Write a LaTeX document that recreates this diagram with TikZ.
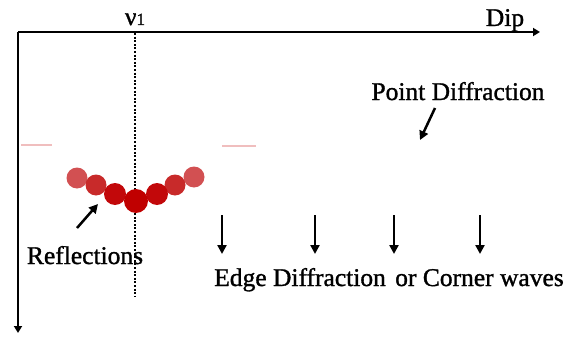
\documentclass[tikz,border=0pt]{standalone}
\usepackage{fontspec}
\setmainfont[FakeBold=0.8]{Liberation Serif}
\newfontfamily\heavyserif[FakeBold=1.2]{Liberation Serif}
\usetikzlibrary{arrows.meta}
\definecolor{dotA}{RGB}{210,80,82}
\definecolor{dotB}{RGB}{200,42,42}
\definecolor{dotC}{RGB}{194,8,10}
\definecolor{dotD}{RGB}{192,0,0}
\definecolor{faint}{RGB}{240,190,190}
\tikzset{
  axis/.style={line width=2.8pt,-{Triangle[length=7pt,width=8pt]}},
  lbl/.style={font=\heavyserif\fontsize{25.5}{25.5}\selectfont, inner sep=0pt},
  pointer/.style={line width=2.5pt,-{Triangle[length=9pt,width=9pt]}},
  dot/.style={circle, inner sep=0pt, draw=none},
}
\begin{document}
\begin{tikzpicture}[x=1pt,y=-1pt]
\useasboundingbox (0,0) rectangle (579,337);
% axes
\coordinate (o) at (18,32);
\coordinate (xe) at (540,32);
\coordinate (ye) at (18,333);
\draw[axis] (o) -- (xe);
\draw[axis] (o) -- (ye);
% labels on axes
\node[lbl,anchor=base] (nu) at (135,25) {ν\fontsize{17}{17}\selectfont 1};
\node[lbl,anchor=base] (dip) at (505,26) {Dip};
% dotted line
\coordinate (dt) at (135,33);
\coordinate (db) at (135,296);
\draw[line width=2.2pt, dash pattern=on 2pt off 1.6pt] (dt) -- (db);
% faint lines
\coordinate (f1a) at (21,145); \coordinate (f1b) at (52,145);
\coordinate (f2a) at (222,146); \coordinate (f2b) at (256,146);
\draw[faint, line width=2.5pt] (f1a) -- (f1b);
\draw[faint, line width=2.5pt] (f2a) -- (f2b);
% reflection dots
\node[dot, fill=dotA, minimum size=21pt] (c1) at (77,178) {};
\node[dot, fill=dotA, minimum size=21pt] (c7) at (194,177) {};
\node[dot, fill=dotB, minimum size=21pt] (c2) at (96,185) {};
\node[dot, fill=dotB, minimum size=21pt] (c6) at (175,185) {};
\node[dot, fill=dotC, minimum size=22pt] (c3) at (115,194) {};
\node[dot, fill=dotC, minimum size=22pt] (c5) at (157,194) {};
\node[dot, fill=dotD, minimum size=24pt] (c4) at (136,201) {};
% reflections label and arrow
\node[lbl,anchor=base] (refl) at (85,264) {Reflections};
\coordinate (ra) at (77,228);
\coordinate (rb) at (98,204);
\draw[pointer] (ra) -- (rb);
% point diffraction
\node[lbl,anchor=base] (pd) at (458,100) {Point Diffraction};
\coordinate (pa) at (435,108);
\coordinate (pb) at (420,140);
\draw[pointer] (pa) -- (pb);
% edge diffraction arrows
\foreach \i/\x in {1/222,2/315,3/394,4/480}{
  \coordinate (ea\i) at (\x,215);
  \coordinate (eb\i) at (\x,254);
  \draw[pointer] (ea\i) -- (eb\i);
}
\node[lbl,anchor=base] (edge) at (389,286) {Edge Diffraction\hspace{3pt} or Corner waves};
\end{tikzpicture}
\end{document}
